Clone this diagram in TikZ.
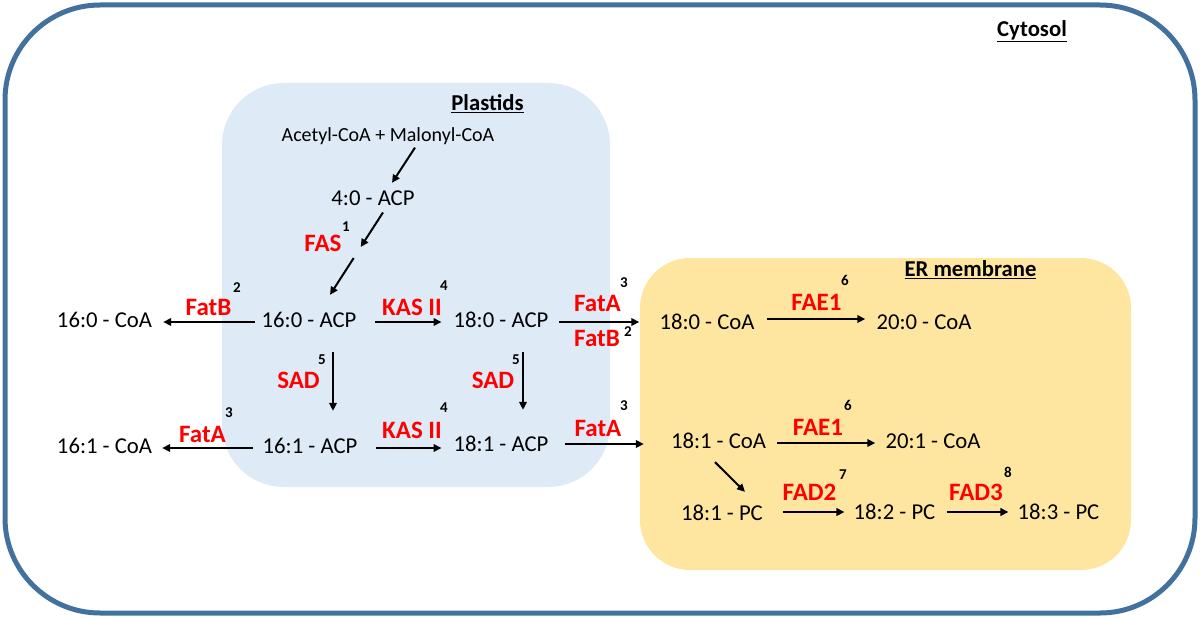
\documentclass[tikz,border=0pt]{standalone}
\usepackage{fontspec}
\setmainfont{Carlito}
\usetikzlibrary{arrows.meta}
\definecolor{outerc}{RGB}{65,113,156}
\definecolor{plasc}{RGB}{222,235,247}
\definecolor{erc}{RGB}{255,230,160}
\definecolor{enzred}{RGB}{255,0,0}
\begin{document}
\begin{tikzpicture}[x=1pt,y=-1pt,
  cmp/.style={inner sep=0pt,text height=14.5pt,text depth=0pt,font=\fontsize{22.7}{27}\selectfont},
  cmps/.style={inner sep=0pt,text height=12.8pt,text depth=0pt,font=\fontsize{20}{24}\selectfont},
  enz/.style={inner sep=0pt,text height=16pt,text depth=0pt,text=enzred,font=\fontsize{25}{30}\selectfont\bfseries},
  supn/.style={inner sep=0pt,text height=9.6pt,text depth=0pt,font=\fontsize{15}{18}\selectfont\bfseries},
  ttl/.style={inner sep=0pt,text height=14.5pt,text depth=0pt,font=\fontsize{22.7}{27}\selectfont\bfseries},
  arr/.style={line width=2pt,-{Triangle[length=8pt,width=7.5pt]}}]
\useasboundingbox (0,0) rectangle (1200,618);
% compartments
\draw[line width=5pt,outerc,rounded corners=95pt] (5,5) rectangle (1195,613);
\fill[plasc,rounded corners=62pt] (222,83) rectangle (610,487);
\fill[erc,rounded corners=50pt] (640,258) rectangle (1131,570);
% titles
\node[ttl] (cyt) at (1032,29) {\underline{Cytosol}};
\node[ttl] (plas) at (487.5,103) {\underline{Plastids}};
\node[ttl] (erm) at (970.5,269) {\underline{ER membrane}};
% compounds
\node[cmps] (acmal) at (388,135) {Acetyl-CoA + Malonyl-CoA};
\node[cmp] (c40) at (373,198) {4:0 - ACP};
\node[cmp] (c160acp) at (309,320) {16:0 - ACP};
\node[cmp] (c160coa) at (104.5,320) {16:0 - CoA};
\node[cmp] (c180acp) at (501,320) {18:0 - ACP};
\node[cmp] (c180coa) at (707,322) {18:0 - CoA};
\node[cmp] (c200coa) at (924,322) {20:0 - CoA};
\node[cmp] (c161coa) at (104.5,446) {16:1 - CoA};
\node[cmp] (c161acp) at (310,446) {16:1 - ACP};
\node[cmp] (c181acp) at (501,444) {18:1 - ACP};
\node[cmp] (c181coa) at (718.5,441) {18:1 - CoA};
\node[cmp] (c201coa) at (933,441) {20:1 - CoA};
\node[cmp] (c181pc) at (722,513) {18:1 - PC};
\node[cmp] (c182pc) at (894.5,512) {18:2 - PC};
\node[cmp] (c183pc) at (1058.5,512) {18:3 - PC};
% enzymes
\node[enz] (fas) at (323,243) {FAS};
\node[supn] (sfas) at (346,227) {1};
\node[enz] (fatb1) at (208.5,307) {FatB};
\node[supn] (sfatb1) at (237,288) {2};
\node[enz] (kas1) at (412,307) {KAS II};
\node[supn] (skas1) at (444,286) {4};
\node[enz] (fata1) at (597.5,303) {FatA};
\node[supn] (sfata1) at (624,283) {3};
\node[enz] (fatb2) at (597,338) {FatB};
\node[supn] (sfatb2) at (628,332) {2};
\node[enz] (sad1) at (298.5,380) {SAD};
\node[supn] (ssad1) at (322,360) {5};
\node[enz] (sad2) at (493,380) {SAD};
\node[supn] (ssad2) at (516,360) {5};
\node[enz] (fata2) at (202.5,434) {FatA};
\node[supn] (sfata2) at (229,413) {3};
\node[enz] (kas2) at (412,430) {KAS II};
\node[supn] (skas2) at (444,408) {4};
\node[enz] (fata3) at (598,428) {FatA};
\node[supn] (sfata3) at (624,406) {3};
\node[enz] (fae1a) at (816.5,302) {FAE1};
\node[supn] (sfae1a) at (845,281) {6};
\node[enz] (fae1b) at (818,427) {FAE1};
\node[supn] (sfae1b) at (848,406) {6};
\node[enz] (fad2) at (809.5,492) {FAD2};
\node[supn] (sfad2) at (843,475) {7};
\node[enz] (fad3) at (976,492) {FAD3};
\node[supn] (sfad3) at (1008,473) {8};
% connectors
\draw[arr] ([shift={(27,6)}]acmal.south) -- ([shift={(19,-7.7)}]c40.north);
\draw[arr] ([shift={(10,7)}]c40.south) -- ([shift={(19,4)}]fas.east);
\draw[arr] ([shift={(12,15)}]fas.east) -- ([shift={(21,-17.7)}]c160acp.north);
\draw[arr] ([shift={(-7,2)}]c160acp.west) -- ([shift={(11,2)}]c160coa.east);
\draw[arr] ([shift={(18,2)}]c160acp.east) -- ([shift={(-12,2)}]c180acp.west);
\draw[arr] ([shift={(10,2)}]c180acp.east) -- ([shift={(-20,0)}]c180coa.west);
\draw[arr] ([shift={(12,-3)}]c180coa.east) -- ([shift={(-11,-3)}]c200coa.west);
\draw[arr] ([shift={(24,24.7)}]c160acp.south) -- ([shift={(23,-27.7)}]c161acp.north);
\draw[arr] ([shift={(22,24.7)}]c180acp.south) -- ([shift={(22,-26.7)}]c181acp.north);
\draw[arr] ([shift={(-10,2)}]c161acp.west) -- ([shift={(10,2)}]c161coa.east);
\draw[arr] ([shift={(18,2)}]c161acp.east) -- ([shift={(-12,4)}]c181acp.west);
\draw[arr] ([shift={(16,0)}]c181acp.east) -- ([shift={(-27,3)}]c181coa.west);
\draw[arr] ([shift={(11,2)}]c181coa.east) -- ([shift={(-10,2)}]c201coa.west);
\draw[arr] ([shift={(-3.5,13.7)}]c181coa.south) -- ([shift={(23,-13.7)}]c181pc.north);
\draw[arr] ([shift={(20,-1)}]c181pc.east) -- ([shift={(-9,0)}]c182pc.west);
\draw[arr] ([shift={(11,0)}]c182pc.east) -- ([shift={(-9,0)}]c183pc.west);
\end{tikzpicture}
\end{document}
